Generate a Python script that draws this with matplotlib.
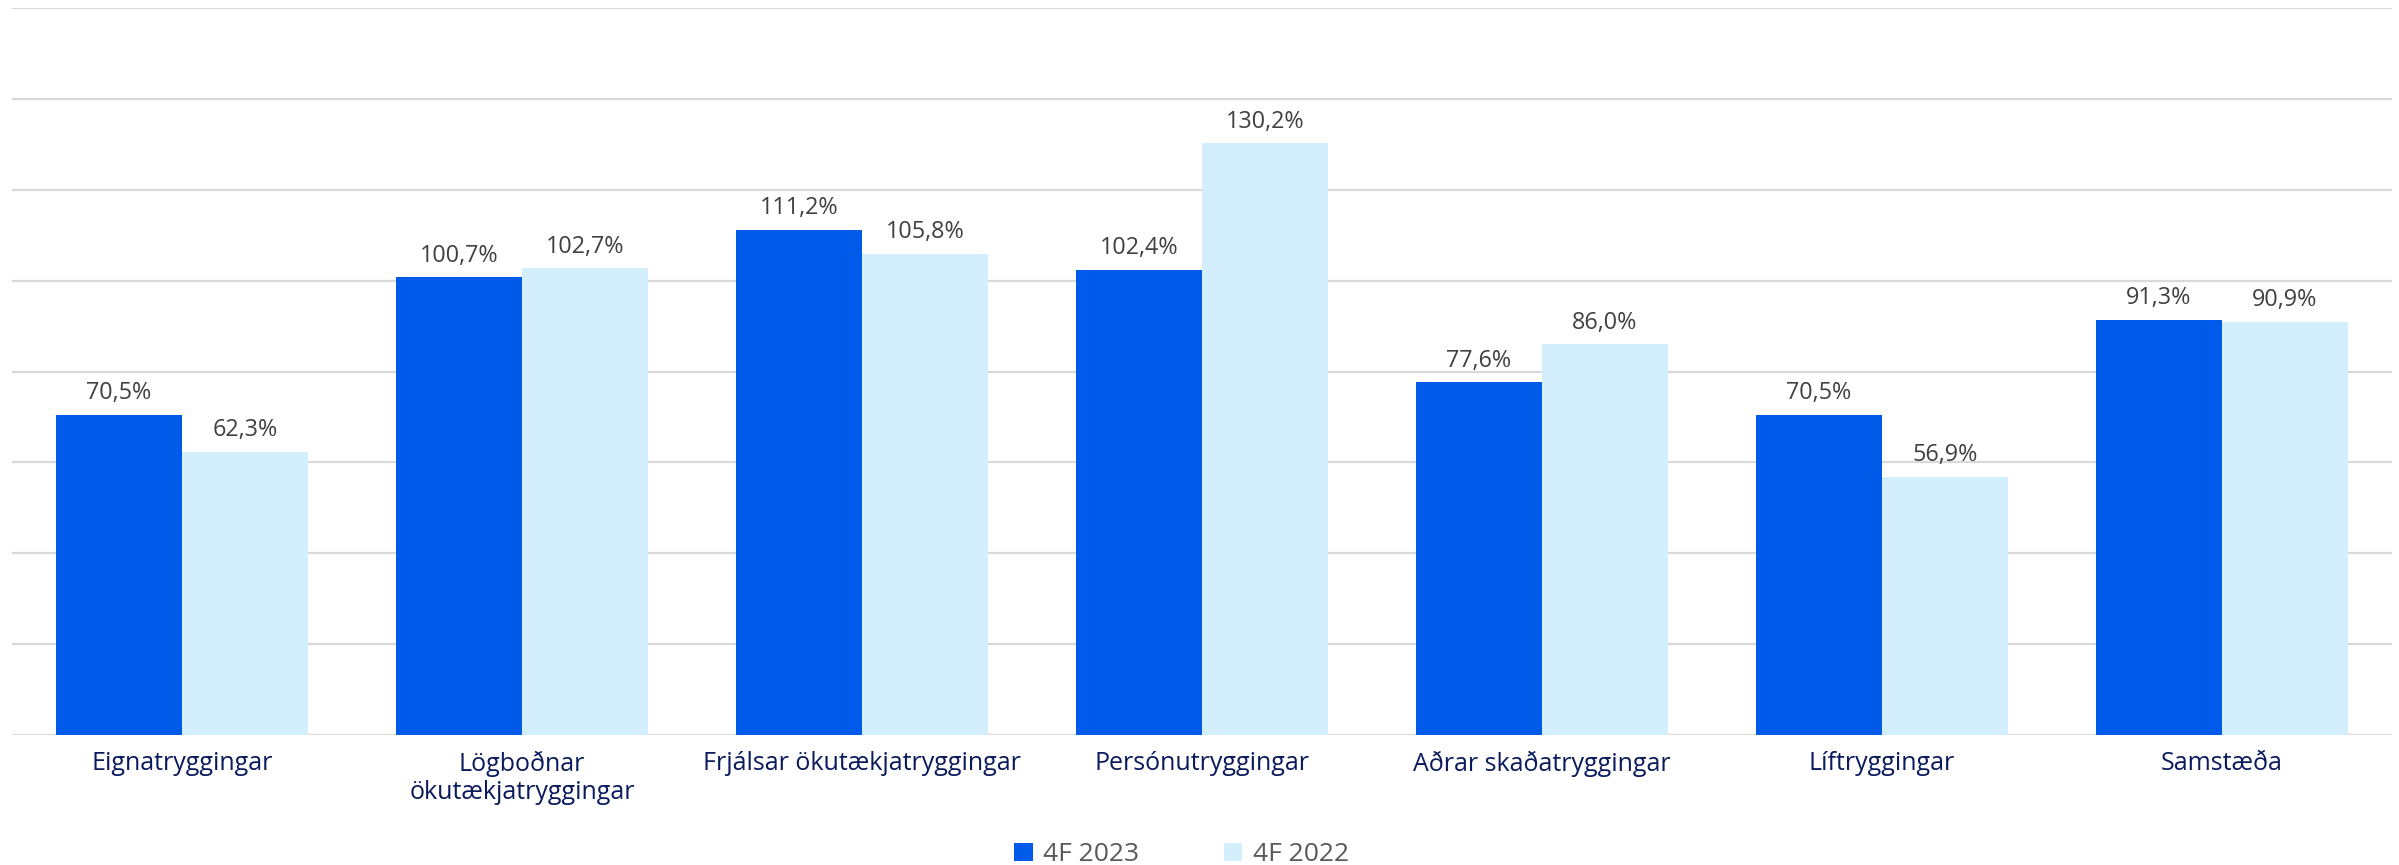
import matplotlib
matplotlib.use("Agg")
import matplotlib.pyplot as plt
import numpy as np

categories = ["Eignatryggingar", "Lögboðnar\nökutækjatryggingar", "Frjálsar ökutækjatryggingar",
              "Persónutryggingar", "Aðrar skaðatryggingar", "Líftryggingar", "Samstæða"]
series_names = ["4F 2023", "4F 2022"]
values_2023 = [70.5, 100.7, 111.2, 102.4, 77.6, 70.5, 91.3]
values_2022 = [62.3, 102.7, 105.8, 130.2, 86.0, 56.9, 90.9]

c23 = "#005BEB"
c22 = "#D3EEFC"
grid_c = "#D9D9D9"

fig = plt.figure(figsize=(23.99, 8.65), dpi=100)
ax = fig.add_axes([0.005, 0.150, 0.992, 0.841])

x = np.arange(len(categories))
w = 0.37
b1 = ax.bar(x - w / 2, values_2023, w, color=c23, label=series_names[0], zorder=3)
b2 = ax.bar(x + w / 2, values_2022, w, color=c22, label=series_names[1], zorder=3)

def fmt(v):
    return f"{v:.1f}%".replace(".", ",")

for bars, vals in ((b1, values_2023), (b2, values_2022)):
    for r, v in zip(bars, vals):
        ax.annotate(fmt(v), (r.get_x() + r.get_width() / 2, v), xytext=(0, 7),
                    textcoords="offset points", ha="center", va="bottom",
                    fontsize=16.8, color="#404040", family="Open Sans")

ax.set_xlim(-0.5, len(categories) - 0.5)
ax.set_ylim(0, 160)
ax.set_yticks(np.arange(0, 161, 20))
ax.yaxis.grid(True, color=grid_c, linewidth=1.6, zorder=0)
ax.tick_params(axis="y", left=False, labelleft=False)
ax.tick_params(axis="x", bottom=False, pad=8)
ax.set_xticks(x)
ax.set_xticklabels(categories, fontsize=18, color="#0A1A5C", family="Open Sans", linespacing=1.15)
for s in ax.spines.values():
    s.set_visible(False)

leg = fig.legend(loc="lower center", bbox_to_anchor=(0.4925, -0.03), ncol=2, frameon=False,
                 handlelength=0.7, handleheight=0.7, columnspacing=3.2,
                 handletextpad=0.4, prop={"family": "Open Sans", "size": 19})
for t in leg.get_texts():
    t.set_color("#595959")

fig.savefig("out.png", dpi=100, facecolor="white")
